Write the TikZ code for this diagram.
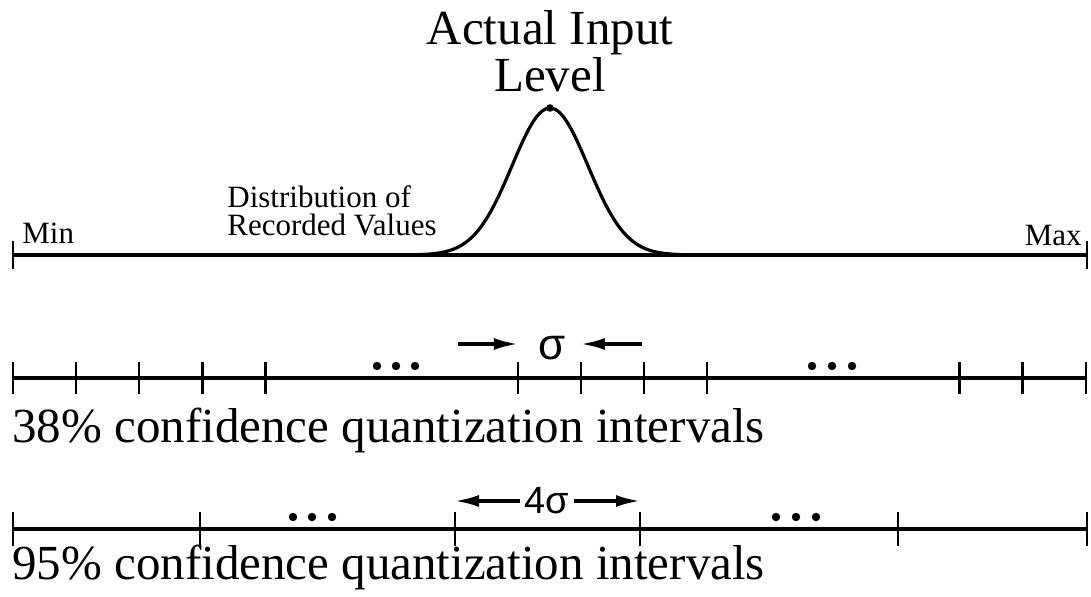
\documentclass[tikz,border=0pt]{standalone}
\usepackage{fontspec}
\setmainfont{Liberation Serif}
\newfontfamily\qasans{Liberation Sans}
\usetikzlibrary{positioning,arrows.meta}
\tikzset{
  qa-axis/.style={line width=1.7pt},
  qa-tick/.style={line width=1.2pt},
  qa-curve/.style={line width=1.6pt, smooth},
  qa-big/.style={font=\fontsize{24.5}{18}\selectfont, inner sep=0pt},
  qa-small/.style={font=\fontsize{15.5}{14}\selectfont, inner sep=0pt},
  qa-sym/.style={font=\qasans\fontsize{22}{22}\selectfont, inner sep=0pt},
  qa-dim/.style={-{Latex[length=12pt,width=6pt]}, line width=1.6pt}
}

\begin{document}
\begin{tikzpicture}[
  x=0.5pt, y=-0.5pt,
  dot/.style={fill=black}
]
\useasboundingbox (0,0) rectangle (1091,597);
% Input range and distribution
\coordinate (min) at (13,255);
\coordinate (max) at (1087,255);
\draw[qa-axis] (min) -- (max);
\foreach \c in {min,max}{
  \draw[qa-tick] (\c) ++(0,-14) -- ++(0,28);
}
\draw[qa-curve] plot[domain=-138:138, samples=90]
  ({550+\x},{255-147*exp(-0.5*(\x/38)*(\x/38))});
\coordinate (peak) at (550,108);
\fill (peak) circle[radius=1.9pt];
\node[qa-big, align=center, above=8pt of peak] (level) {Actual Input\\Level};
\node[qa-small, align=left, anchor=north west] (dist) at (227,185)
  {Distribution of\\Recorded Values};
\node[qa-small, anchor=base west] (minlab) at (22,244) {Min};
\node[qa-small, anchor=base east] (maxlab) at (1082,246) {Max};
% 38% intervals
\coordinate (l2w) at (13,378);
\coordinate (l2e) at (1086,378);
\draw[qa-axis] (l2w) -- (l2e);
\foreach \i in {0,1,2,3,4,8,9,10,11,15,16,17}{
  \coordinate (b\i) at ({13+63.1*\i},378);
  \draw[qa-tick] (b\i) ++(0,-16) -- ++(0,32);
}
\foreach \x in {377,396,415,812,832,852}{
  \fill[dot] (\x,366) circle[radius=2.1pt];
}
\node[qa-sym] (sig) at (552,348) {σ};
\coordinate (sl) at (458,344);
\coordinate (sr) at (642,344);
\draw[qa-dim] (sl) -- (b8 |- sl);
\draw[qa-dim] (sr) -- (b9 |- sr);
\node[qa-big, anchor=base west] (ci38) at (12,443)
  {38\% confidence quantization intervals};
% 95% intervals
\foreach \n/\x in {0/13,1/200,2/455,3/640,4/898,5/1087}{
  \coordinate (c\n) at (\x,529);
  \draw[qa-tick] (c\n) ++(0,-17) -- ++(0,34);
}
\draw[qa-axis] (c0) -- (c5);
\foreach \x in {293,312,332,776,796,816}{
  \fill[dot] (\x,517) circle[radius=2.1pt];
}
\node[qa-sym, font=\qasans\fontsize{19}{19}\selectfont, inner sep=2pt]
  (four) at (547,501) {4σ};
\draw[qa-dim] (four.west) -- (c2 |- four.west);
\draw[qa-dim] (four.east) -- (c3 |- four.east);
\node[qa-big, anchor=base west] (ci95) at (12,580)
  {95\% confidence quantization intervals};
\end{tikzpicture}
\end{document}
